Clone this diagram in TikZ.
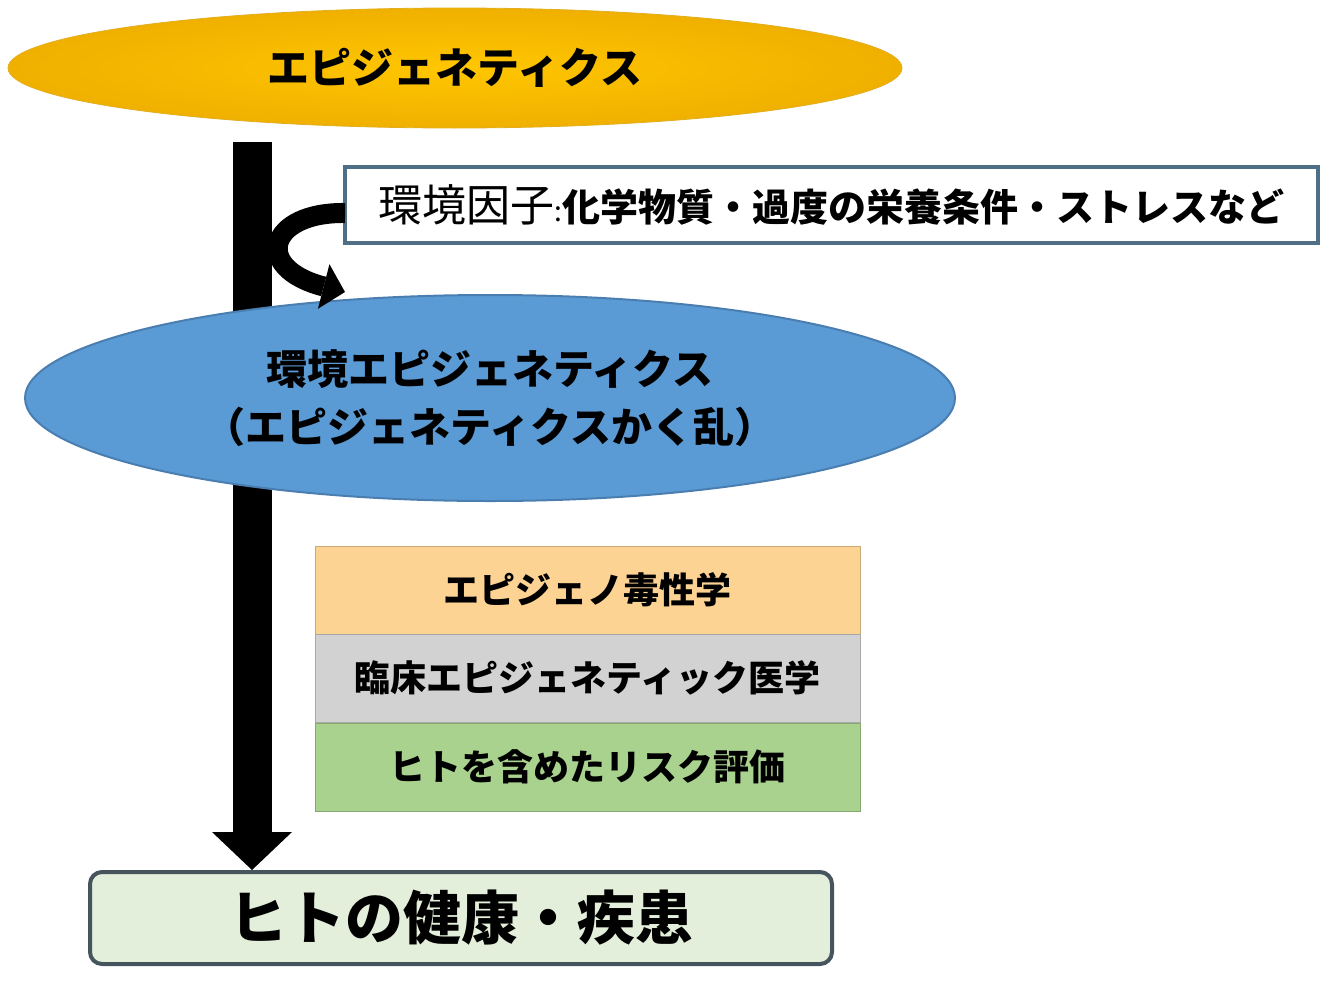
\documentclass[tikz,border=0pt]{standalone}
\usepackage{fontspec}
\setmainfont{Noto Sans CJK JP}
\usetikzlibrary{shapes.geometric,arrows.meta,calc}
\definecolor{gold}{HTML}{FFC600}
\definecolor{goldedge}{HTML}{F0B000}
\definecolor{goldline}{HTML}{E2AE20}
\definecolor{blueell}{HTML}{5B9BD5}
\definecolor{blueedge}{HTML}{4A7EB0}
\definecolor{envedge}{HTML}{4F6F86}
\definecolor{orangebox}{HTML}{FDD394}
\definecolor{graybox}{HTML}{D2D2D2}
\definecolor{greenbox}{HTML}{AAD28F}
\definecolor{healthfill}{HTML}{E3EFDA}
\definecolor{healthedge}{HTML}{46545E}
\tikzset{
  bigell/.style={ellipse, inner sep=0pt, align=center},
  layerbox/.style={rectangle, minimum width=545, minimum height=88, inner sep=0pt, draw=#1!80!black, line width=0.8, fill=#1,
    font=\bfseries\fontsize{36}{40}\selectfont},
  fatarrow/.style={line width=20, draw=black},
}
\begin{document}
\begin{tikzpicture}[x=1pt,y=-1pt]
\useasboundingbox (0,0) rectangle (1327,993);
% main vertical arrow
\coordinate (barstart) at (252,142);
\node[rectangle, rounded corners=12, minimum width=742, minimum height=92, inner sep=0pt,
      draw=healthedge, line width=4, fill=healthfill, font=\bfseries\fontsize{58}{64}\selectfont] (health) at (461,918)
      {ヒトの健康・疾患};
\draw[line width=39, black, -{Triangle[length=38pt, width=80pt, line width=0pt]}]
  (barstart) -- (barstart |- health.north);
% top ellipse
\node[bigell, minimum width=894, minimum height=120, shading=radial, inner color=gold, outer color=goldedge,
      draw=goldline, line width=0.8, font=\bfseries\fontsize{42}{48}\selectfont] (epi) at (455,68)
  {エピジェネティクス};
% blue ellipse
\node[bigell, minimum width=930, minimum height=206, fill=blueell, draw=blueedge, line width=2,
      font=\bfseries\fontsize{41}{58}\selectfont] (envepi) at (490,398)
  {環境エピジェネティクス\\（エピジェネティクスかく乱）};
% environment factor box
\node[rectangle, minimum width=973, minimum height=76, inner sep=0pt, draw=envedge, line width=4, fill=white] (env) at (831.5,205)
  {{\fontsize{44}{50}\selectfont 環境因子}{\fontsize{28}{30}\selectfont :}{\bfseries\fontsize{38}{44}\selectfont 化学物質・過度の栄養条件・ストレスなど}};
% curved arrow
\coordinate (curveend) at (345,292);
\draw[fatarrow, -{Triangle[length=22pt, width=46pt, line width=0pt]}]
  ($(env.west)+(2,8)$) .. controls (268,212) and (252,268) .. (curveend);
% layer boxes
\node[layerbox=orangebox] (tox) at (587.5,590) {エピジェノ毒性学};
\node[layerbox=graybox] (clin) at (587.5,678) {臨床エピジェネティック医学};
\node[layerbox=greenbox] (risk) at (587.5,767) {ヒトを含めたリスク評価};
\end{tikzpicture}
\end{document}
